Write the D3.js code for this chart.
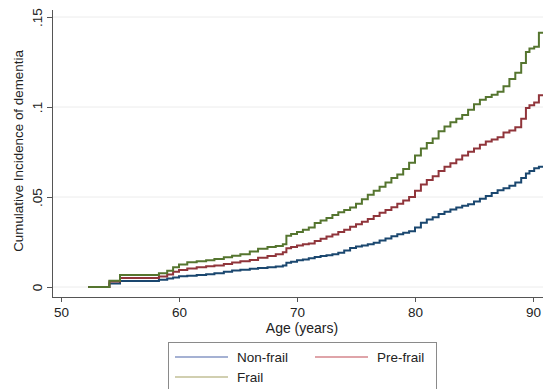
<!DOCTYPE html>
<html>
<head>
<meta charset="utf-8">
<script src="https://cdn.jsdelivr.net/npm/d3@7"></script>
<style>
  body { margin: 0; background: #fff; }
  text { font-family: Arial, "Liberation Sans", sans-serif; fill: #222; }
</style>
</head>
<body>
<svg width="543" height="389"></svg>
<script>
// ages where the step curves change, and cumulative incidence per group
var ages = [52.3, 54.1, 55.0, 58.3, 59.0, 59.5, 60.0, 60.7, 61.5, 62.3, 63.0, 63.8, 64.5, 65.2,
    66.0, 66.7, 67.5, 68.2, 68.8, 69.1, 69.5, 70.0, 70.5, 71.0, 71.5, 72.0, 72.5, 73.0, 73.5,
    74.0, 74.5, 75.0, 75.5, 76.0, 76.5, 77.0, 77.5, 78.0, 78.5, 79.0, 79.5, 80.0, 80.5, 81.0,
    81.5, 82.0, 82.5, 83.0, 83.5, 84.0, 84.5, 85.0, 85.5, 86.0, 86.5, 87.0, 87.5, 88.0, 88.5,
    89.0, 89.4, 89.7, 90.1, 90.5, 91.0];

var nonFrail = [0, 0.002, 0.0033, 0.004, 0.0047, 0.0053, 0.006, 0.0062, 0.0066, 0.0071, 0.0077,
    0.0085, 0.0091, 0.0096, 0.0101, 0.0106, 0.011, 0.0114, 0.0119, 0.0135, 0.014, 0.0148, 0.0153,
    0.016, 0.0167, 0.0172, 0.0176, 0.0182, 0.019, 0.0203, 0.0217, 0.0225, 0.0231, 0.0237, 0.0246,
    0.0258, 0.027, 0.0282, 0.0293, 0.0302, 0.031, 0.033, 0.0357, 0.0375, 0.0388, 0.0405, 0.0418,
    0.043, 0.0441, 0.0452, 0.046, 0.0475, 0.049, 0.0505, 0.0522, 0.0537, 0.0548, 0.0562, 0.058,
    0.0605, 0.063, 0.0645, 0.066, 0.0668, 0.0668];

var preFrail = [0, 0.003, 0.005, 0.0058, 0.007, 0.0085, 0.0095, 0.0103, 0.011, 0.0115, 0.012,
    0.0128, 0.0136, 0.0143, 0.015, 0.0162, 0.0172, 0.0182, 0.0193, 0.0215, 0.0222, 0.023, 0.0237,
    0.0242, 0.0255, 0.0268, 0.028, 0.0292, 0.0305, 0.0318, 0.0335, 0.0348, 0.0362, 0.0378, 0.0395,
    0.0412, 0.0428, 0.0443, 0.0462, 0.048, 0.05, 0.0535, 0.057, 0.0595, 0.0615, 0.0645, 0.0668,
    0.0688, 0.0708, 0.073, 0.0752, 0.077, 0.079, 0.0808, 0.082, 0.0832, 0.0858, 0.087, 0.0888,
    0.0935, 0.0995, 0.101, 0.1025, 0.1065, 0.1065];

var frail = [0, 0.0035, 0.0067, 0.0077, 0.009, 0.011, 0.0125, 0.0138, 0.0143, 0.0148, 0.0155,
    0.0165, 0.0173, 0.0182, 0.0197, 0.0212, 0.0222, 0.0228, 0.0238, 0.0285, 0.0295, 0.0305, 0.0318,
    0.033, 0.0355, 0.037, 0.0383, 0.04, 0.0415, 0.0428, 0.0442, 0.0463, 0.0488, 0.0512, 0.0535,
    0.0557, 0.058, 0.0605, 0.0625, 0.0655, 0.069, 0.073, 0.077, 0.08, 0.0825, 0.0865, 0.0892,
    0.0915, 0.0935, 0.0955, 0.0985, 0.1015, 0.104, 0.1055, 0.1068, 0.1085, 0.1115, 0.1155, 0.119,
    0.1245, 0.1305, 0.1325, 0.1335, 0.1412, 0.1412];

var xTicks = [50, 60, 70, 80, 90];
var yTicks = [0, 0.05, 0.1, 0.15];
var yTickLabels = ["0", ".05", ".1", ".15"];

var series = [
    { name: "Non-frail", values: nonFrail, color: "#1a476f", legendColor: "#8797c4" },
    { name: "Pre-frail", values: preFrail, color: "#90353b", legendColor: "#d4868c" },
    { name: "Frail", values: frail, color: "#55752f", legendColor: "#c2bf96" }
];

var svg = d3.select("svg");

var x = d3.scaleLinear().domain([50, 90]).range([61, 533]);
var y = d3.scaleLinear().domain([0, 0.15]).range([287, 17]);

var plotLeft = 52, plotRight = 543, plotTop = 10, plotBottom = 297;

// gridlines
svg.append("g")
    .selectAll("line")
    .data(yTicks)
    .enter().append("line")
    .attr("x1", plotLeft)
    .attr("x2", plotRight)
    .attr("y1", function(d) { return y(d); })
    .attr("y2", function(d) { return y(d); })
    .attr("stroke", "#ececec")
    .attr("stroke-width", 1);

// curves
var line = d3.line()
    .x(function(d) { return x(d[0]); })
    .y(function(d) { return y(d[1]); })
    .curve(d3.curveStepAfter);

series.forEach(function(s) {
    var pts = ages.map(function(a, i) { return [a, s.values[i]]; });
    svg.append("path")
        .datum(pts)
        .attr("fill", "none")
        .attr("stroke", s.color)
        .attr("stroke-width", 2)
        .attr("d", line);
});

// x axis
var xAxis = svg.append("g")
    .attr("transform", "translate(0," + plotBottom + ")")
    .call(d3.axisBottom(x).tickValues(xTicks).tickSize(5).tickPadding(5));
xAxis.select(".domain").attr("d", "M" + plotLeft + ",0.5H" + plotRight).attr("stroke", "#555");
xAxis.selectAll(".tick line").attr("stroke", "#555");
xAxis.selectAll("text").style("font-size", "13.5px").attr("fill", "#222");

// y axis
var yAxis = svg.append("g")
    .attr("transform", "translate(" + plotLeft + ",0)")
    .call(d3.axisLeft(y).tickValues(yTicks).tickSize(5)
        .tickFormat(function(d, i) { return yTickLabels[i]; }));
yAxis.select(".domain").attr("d", "M0.5," + plotTop + "V" + plotBottom).attr("stroke", "#555");
yAxis.selectAll(".tick line").attr("stroke", "#555");
yAxis.selectAll("text")
    .style("font-size", "13.5px")
    .attr("fill", "#222")
    .attr("x", null)
    .attr("dy", null)
    .attr("text-anchor", "middle")
    .attr("transform", "translate(-10,0) rotate(-90)");

// axis titles
svg.append("text")
    .attr("x", 302)
    .attr("y", 333)
    .attr("text-anchor", "middle")
    .style("font-size", "14px")
    .text("Age (years)");

svg.append("text")
    .attr("transform", "translate(23," + 151 + ") rotate(-90)")
    .attr("text-anchor", "middle")
    .style("font-size", "13.4px")
    .text("Cumulative Incidence of dementia");

// legend
var legend = svg.append("g");
legend.append("rect")
    .attr("x", 168.5)
    .attr("y", 342.5)
    .attr("width", 268)
    .attr("height", 60)
    .attr("fill", "#fff")
    .attr("stroke", "#8a8a8a");

var legendPos = [
    { lx: 175, ty: 357 },
    { lx: 315, ty: 357 },
    { lx: 175, ty: 377 }
];

series.forEach(function(s, i) {
    var p = legendPos[i];
    legend.append("line")
        .attr("x1", p.lx)
        .attr("x2", p.lx + 53)
        .attr("y1", p.ty)
        .attr("y2", p.ty)
        .attr("stroke", s.legendColor)
        .attr("stroke-width", 1.5);
    legend.append("text")
        .attr("x", p.lx + 62)
        .attr("y", p.ty + 5)
        .style("font-size", "13.5px")
        .text(s.name);
});
</script>
</body>
</html>
